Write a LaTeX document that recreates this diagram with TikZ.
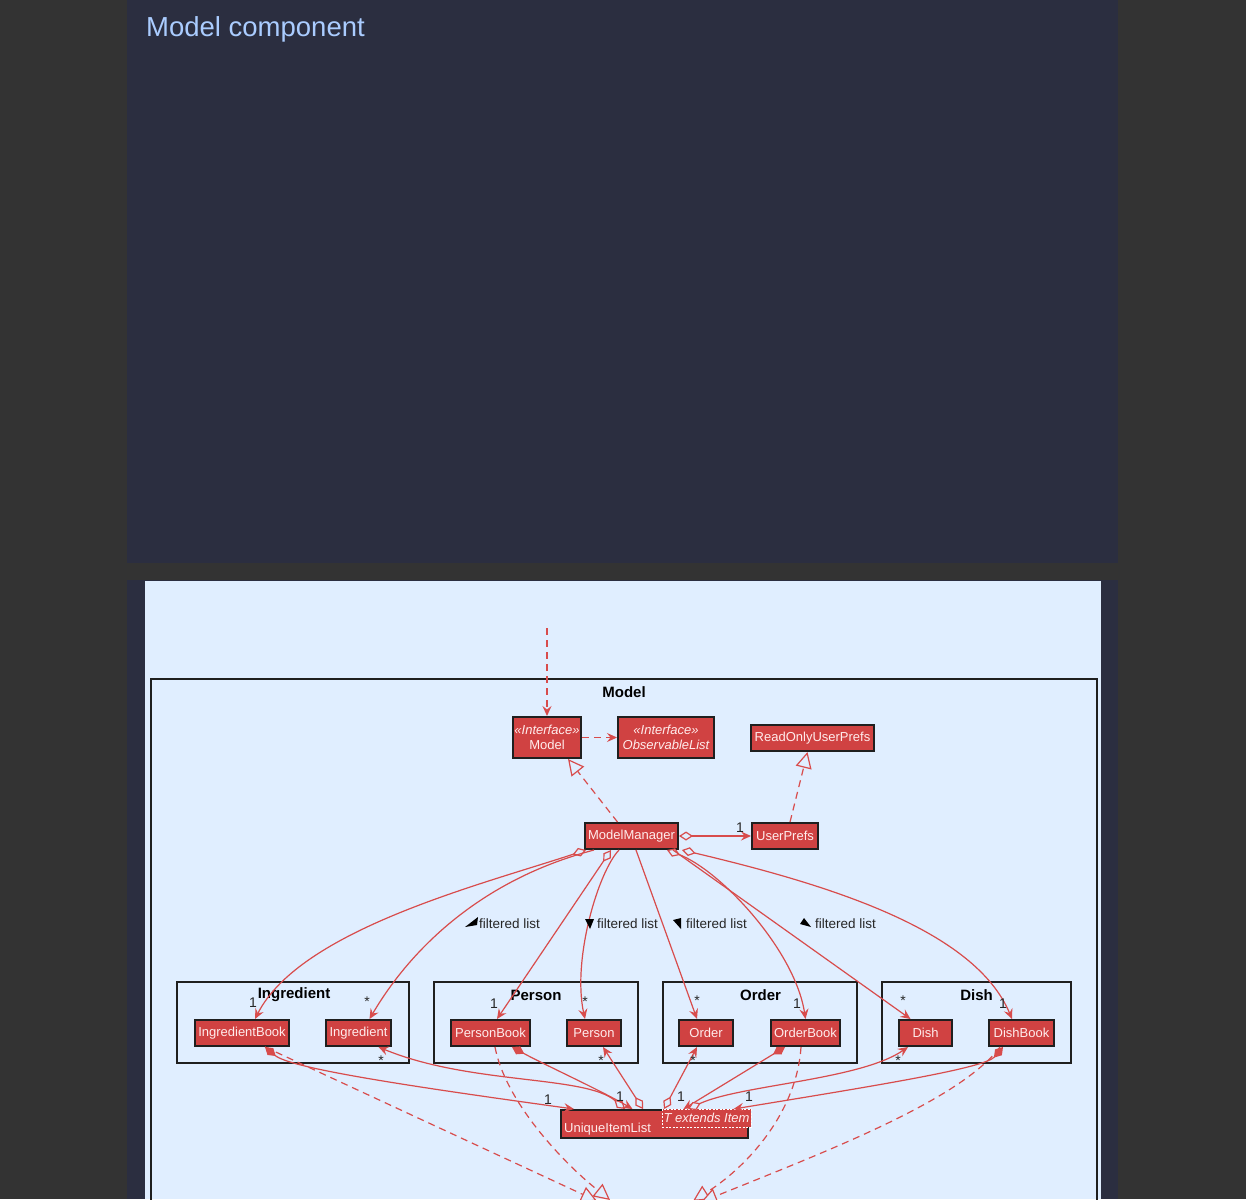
\documentclass[tikz,border=0pt]{standalone}
\usepackage{fontspec}
\setmainfont{Liberation Sans}
\usetikzlibrary{arrows.meta,calc}
\definecolor{pagebg}{RGB}{51,51,51}
\definecolor{cardbg}{RGB}{43,46,64}
\definecolor{imgbg}{RGB}{224,238,255}
\definecolor{umlred}{RGB}{208,66,66}
\definecolor{edgered}{RGB}{216,76,76}
\definecolor{nodetext}{RGB}{255,236,236}
\definecolor{titleblue}{RGB}{170,204,255}
\begin{document}
\begin{tikzpicture}[x=1pt,y=-1pt,
  cls/.style={draw=black!88, line width=2pt, fill=umlred, text=nodetext, font=\fontsize{13}{15}\selectfont, inner sep=0pt, minimum height=26pt},
  pkgbox/.style={draw=black!88, line width=1.5pt, inner sep=0pt},
  pkgtitle/.style={font=\fontsize{15}{18}\selectfont\bfseries, text=black, inner sep=0pt},
  conn/.style={draw=edgered, line width=1.2pt},
  dsh/.style={dash pattern=on 7pt off 5pt},
  tipA/.style={-{Stealth[length=10pt,width=9pt,inset=3.5pt]}},
  tipT/.style={-{Triangle[open,fill=imgbg,length=16pt,width=16pt]}},
  hdA/.style={{Diamond[open,fill=imgbg,length=14pt,width=9pt]}-{Stealth[length=10pt,width=9pt,inset=3.5pt]}},
  fdA/.style={{Diamond[length=14pt,width=9pt]}-{Stealth[length=10pt,width=9pt,inset=3.5pt]}},
  mult/.style={font=\fontsize{14}{16}\selectfont, text=black!85, inner sep=0pt},
  flbl/.style={font=\fontsize{13.5}{16}\selectfont, text=black!85, inner sep=0pt, anchor=west}
]
\useasboundingbox (0,0) rectangle (1246,1199);
\begin{scope}
\clip (0,0) rectangle (1246,1199);
% backgrounds
\fill[pagebg] (0,0) rectangle (1246,1199);
\fill[cardbg] (127,0) rectangle (1118,563);
\fill[cardbg] (127,580) rectangle (1118,1199);
\fill[imgbg] (145,581) rectangle (1101,1199);
\node[anchor=base west, text=titleblue, font=\fontsize{27.5}{32}\selectfont, inner sep=0pt] (title) at (146,37) {Model component};

% model frame
\node[draw=black!88, line width=2pt, minimum width=946pt, minimum height=560pt, inner sep=0pt] (frame) at (624,959) {};
\node[pkgtitle] (frametitle) at (624,692) {Model};

% packages
\node[pkgbox, minimum width=232pt, minimum height=81pt] (pkgI) at (293,1022.5) {};
\node[pkgbox, minimum width=204pt, minimum height=81pt] (pkgP) at (536,1022.5) {};
\node[pkgbox, minimum width=194pt, minimum height=81pt] (pkgO) at (760,1022.5) {};
\node[pkgbox, minimum width=189pt, minimum height=81pt] (pkgD) at (976.5,1022.5) {};
\node[pkgtitle] (tI) at (294,995) {Ingredient};
\node[pkgtitle] (tP) at (536,995) {Person};
\node[pkgtitle] (tO) at (760.5,995) {Order};
\node[pkgtitle] (tD) at (976.5,995) {Dish};

% classes
\node[cls, minimum width=68pt, minimum height=41pt, align=center] (model) at (547,737.5) {{\itshape «Interface»}\\Model};
\node[cls, minimum width=96pt, minimum height=41pt, align=center, font=\fontsize{13}{15}\selectfont\itshape] (obs) at (666,737.5) {«Interface»\\ObservableList};
\node[cls, minimum width=123pt] (rup) at (812.5,738) {ReadOnlyUserPrefs};
\node[cls, minimum width=93pt] (mm) at (631.5,836) {ModelManager};
\node[cls, minimum width=66pt] (up) at (785,836) {UserPrefs};
\node[cls, minimum width=94pt] (ib) at (242,1033) {IngredientBook};
\node[cls, minimum width=65pt] (ing) at (358.5,1033) {Ingredient};
\node[cls, minimum width=79pt] (pb) at (490.5,1033) {PersonBook};
\node[cls, minimum width=54pt] (ps) at (594,1033) {Person};
\node[cls, minimum width=54pt] (od) at (706,1033) {Order};
\node[cls, minimum width=69pt] (ob) at (805.5,1033) {OrderBook};
\node[cls, minimum width=53pt] (ds) at (925.5,1033) {Dish};
\node[cls, minimum width=65pt] (db) at (1021.5,1033) {DishBook};
\node[cls, minimum width=187pt, minimum height=28pt] (uil) at (654.5,1124) {};
\node[anchor=base west, text=nodetext, font=\fontsize{13}{15}\selectfont, inner sep=0pt] (uiltxt) at ([shift={(4,-7)}]uil.south west) {UniqueItemList};
\node[draw=white, line width=0.8pt, dash pattern=on 2pt off 1.5pt, fill=umlred, text=nodetext, font=\fontsize{13}{15}\selectfont\itshape, minimum width=89pt, minimum height=18pt, inner sep=0pt] (tmpl) at (706.5,1118) {T extends Item};

% top connectors
\coordinate (topin) at (547,628);
\draw[conn,dsh,tipA] (topin) -- (model.north);
\draw[conn,dsh,tipA] (model.east) -- (obs.west);
\draw[conn,dsh,tipT] ([xshift=-14pt]mm.north) -- ([xshift=21pt]model.south);
\draw[conn,dsh,tipT] ([xshift=5pt]up.north) -- ([xshift=-5pt]rup.south);
\draw[conn,hdA] (mm.east) -- (up.west);
\node[mult] (m0) at (740,828) {1};

% ModelManager to packages
\draw[conn,hdA] ([xshift=2pt]mm.south west) .. controls (480,885) and (300,930) .. ([xshift=13pt]ib.north);
\draw[conn,tipA] ([xshift=10pt]mm.south west) .. controls (480,880) and (410,950) .. ([xshift=11pt]ing.north);
\draw[conn,hdA] ([xshift=27pt]mm.south west) -- ([xshift=6.5pt]pb.north);
\draw[conn,tipA] ([xshift=35pt]mm.south west) .. controls (598,872) and (572,960) .. ([xshift=-9pt]ps.north);
\draw[conn,tipA] ([xshift=52pt]mm.south west) -- ([xshift=-9pt]od.north);
\draw[conn,hdA] ([xshift=-12pt]mm.south east) .. controls (720,870) and (795,950) .. (ob.north);
\draw[conn,tipA] ([xshift=-6pt]mm.south east) -- ([xshift=-15pt]ds.north);
\draw[conn,hdA] ([xshift=3pt]mm.south east) .. controls (830,885) and (975,930) .. ([xshift=-9.5pt]db.north);

\node[mult] (m1) at (253,1003) {1};
\node[mult] (m2) at (367,1002) {*};
\node[mult] (m3) at (494,1004) {1};
\node[mult] (m4) at (585,1002) {*};
\node[mult] (m5) at (697,1001) {*};
\node[mult] (m6) at (797,1004) {1};
\node[mult] (m7) at (903,1001) {*};
\node[mult] (m8) at (1003,1004) {1};

% filtered list labels
\node[flbl] (fl1) at (479,924) {filtered list};
\node[flbl] (fl2) at (597,924) {filtered list};
\node[flbl] (fl3) at (686,924) {filtered list};
\node[flbl] (fl4) at (815,924) {filtered list};
\fill[black, shift={(fl1.west)}] (-14,3) -- (-2,1) -- (-1,-7) -- cycle;
\fill[black, shift={(fl2.west)}] (-12,-5) -- (-3,-5) -- (-7,5) -- cycle;
\fill[black, shift={(fl3.west)}] (-13,-4) -- (-5,-6) -- (-5,5) -- cycle;
\fill[black, shift={(fl4.west)}] (-11,-6) -- (-15,0) -- (-4,3) -- cycle;

% lower connectors to UniqueItemList
\draw[conn,fdA] ([xshift=23pt]ib.south) .. controls (290,1068) and (400,1085) .. ([xshift=14pt]uil.north west);
\node[mult] (n1) at (548,1100) {1};
\draw[conn,hdA] ([xshift=-29.5pt]uil.north) .. controls (585,1075) and (470,1085) .. ([xshift=20pt]ing.south);
\node[mult] (n2) at (381,1061) {*};
\draw[conn,fdA] ([xshift=21.5pt]pb.south) .. controls (545,1065) and (600,1090) .. ([xshift=-22pt]uil.north);
\node[mult] (n3) at (620,1097) {1};
\draw[conn,hdA] ([xshift=-11.5pt]uil.north) -- ([xshift=9pt]ps.south);
\node[mult] (n4) at (601,1061) {*};
\draw[conn,hdA] ([xshift=9.5pt]uil.north) -- ([xshift=-9pt]od.south);
\node[mult] (n5) at (693,1061) {*};
\draw[conn,fdA] ([xshift=-20.5pt]ob.south) -- ([xshift=29pt]uil.north);
\node[mult] (n6) at (681,1097) {1};
\draw[conn,hdA] ([xshift=33.5pt]uil.north) .. controls (740,1085) and (860,1080) .. ([xshift=-17.5pt]ds.south);
\node[mult] (n7) at (898,1061) {*};
\draw[conn,fdA] ([xshift=-18.5pt]db.south) .. controls (985,1068) and (880,1085) .. ([xshift=79pt]uil.north);
\node[mult] (n8) at (749,1097) {1};

% dashed realisations going below
\coordinate (rib) at (597,1201);
\coordinate (rpb) at (610,1200);
\coordinate (rob) at (693,1201);
\coordinate (rdb) at (701,1202);
\draw[conn,dsh,tipT] ([xshift=23pt]ib.south) -- (rib);
\draw[conn,dsh,tipT] ([xshift=4.5pt]pb.south) .. controls (505,1100) and (560,1160) .. (rpb);
\draw[conn,dsh,tipT] ([xshift=-4.5pt]ob.south) .. controls (797,1110) and (750,1165) .. (rob);
\draw[conn,dsh,tipT] ([xshift=-21.5pt]db.south) .. controls (960,1100) and (830,1150) .. (rdb);
\end{scope}
\end{tikzpicture}
\end{document}
